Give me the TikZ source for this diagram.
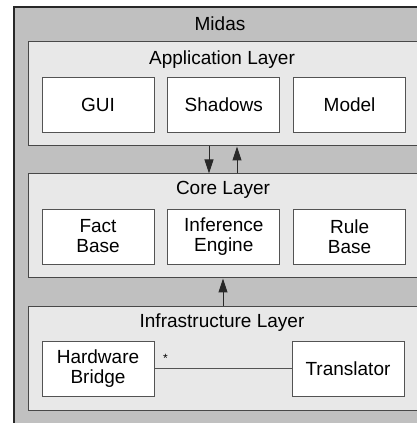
\documentclass[tikz,border=0pt]{standalone}
\usepackage{fontspec}
\setmainfont{Liberation Sans}
\usetikzlibrary{positioning,arrows.meta}
\definecolor{framegray}{RGB}{192,192,192}
\definecolor{layergray}{RGB}{232,232,232}
\definecolor{ink}{RGB}{40,40,40}
\tikzset{
  frame/.style={draw=ink, line width=1.2pt, fill=framegray},
  layer/.style={draw=ink!85, line width=1pt, fill=layergray, minimum width=412pt, minimum height=104pt, inner sep=0pt},
  part/.style={draw=ink!80, line width=0.8pt, fill=white, align=center, minimum width=112pt, minimum height=55pt, inner sep=0pt, font=\fontsize{19}{20}\selectfont},
  title/.style={font=\fontsize{19}{20}\selectfont, inner sep=0pt},
  arrow/.style={-{Triangle[length=14pt, width=9pt]}, line width=1pt, draw=ink}
}
\begin{document}
\begin{tikzpicture}[x=1pt, y=1pt]
    \useasboundingbox (0,0) rectangle (417,423);
    \clip (0,0) rectangle (417,423);
    \filldraw[frame] (14,-20) rectangle (460,416);
    \node[title] (midas) at (220,399) {Midas};
    % layers
    \node[layer] (app) at (234,329) {};
    \node[layer] (core) at (234,197) {};
    \node[layer] (infra) at (234,64.5) {};
    \node[title] (apptitle) at (222,363) {Application Layer};
    \node[title] (coretitle) at (223,233) {Core Layer};
    \node[title] (infratitle) at (222,100) {Infrastructure Layer};
    % application parts
    \node[part] (gui) at (98,318.5) {GUI};
    \node[part, right=13pt of gui] (shadows) {Shadows};
    \node[part, right=13pt of shadows] (model) {Model};
    % core parts
    \node[part] (fact) at (98,186.5) {Fact\\Base};
    \node[part, right=13pt of fact] (engine) {Inference\\Engine};
    \node[part, right=13pt of engine] (rules) {Rule\\Base};
    % infrastructure parts
    \node[part] (bridge) at (98,54.5) {Hardware\\Bridge};
    \node[part] (translator) at (348,54.5) {Translator};
    \draw[arrow] (app.south -| 209,0) -- (core.north -| 209,0);
    \draw[arrow] (core.north -| 237,0) -- (app.south -| 237,0);
    \draw[arrow] (infra.north -| 223,0) -- (core.south -| 223,0);
    \draw[draw=ink!80, line width=0.8pt] (bridge.east) -- node[pos=0.08, above=2pt, font=\fontsize{12}{12}\selectfont] {*} (translator.west);
\end{tikzpicture}
\end{document}
